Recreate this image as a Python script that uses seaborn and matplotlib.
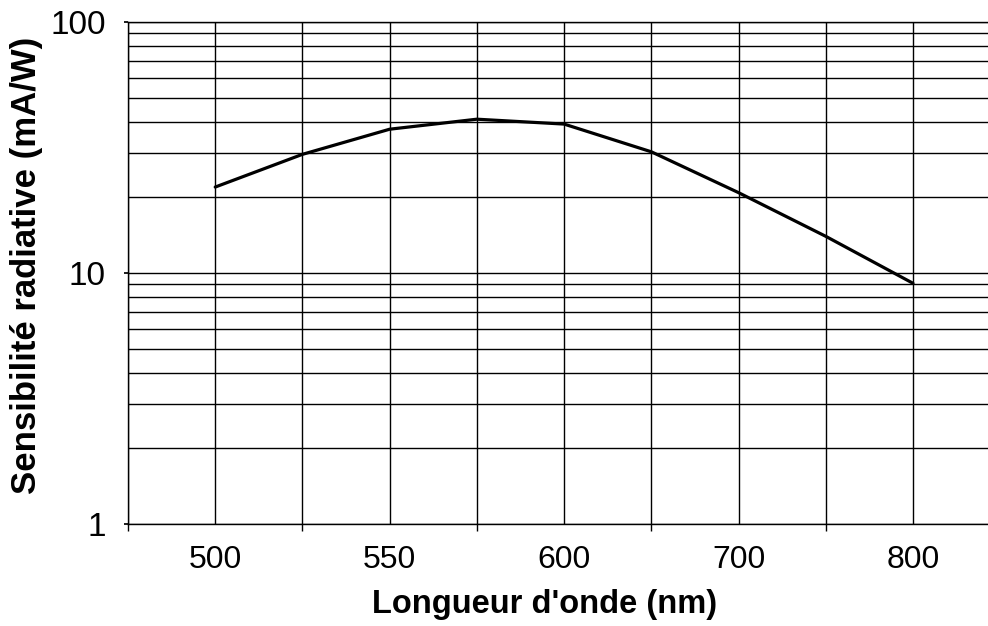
import matplotlib
matplotlib.use("Agg")
import matplotlib.pyplot as plt
import seaborn as sns
import pandas as pd
import numpy as np
from matplotlib.ticker import FixedLocator, NullFormatter, LogLocator

wavelengths = ["500", "525", "550", "575", "600", "650", "700", "750", "800"]
sensitivity = [22.0, 29.7, 37.4, 41.0, 39.2, 30.4, 20.9, 14.0, 9.1]
shown_labels = ["500", "550", "600", "700", "800"]
y_ticks = [1, 10, 100]
y_tick_labels = ["1", "10", "100"]
x_label = "Longueur d'onde (nm)"
y_label = "Sensibilité radiative (mA/W)"

sns.set_theme(style="white")
plt.rcParams["font.family"] = ["Liberation Sans", "DejaVu Sans"]

df = pd.DataFrame({"wl": wavelengths, "s": sensitivity})

fig = plt.figure(figsize=(9.88, 6.26), dpi=100)
ax = fig.add_axes([128/988, 1-524/626, 1-128/988, (524-22)/626])

sns.lineplot(data=df, x="wl", y="s", ax=ax, color="black", linewidth=2.3, sort=False)

ax.set_yscale("log")
ax.set_ylim(1, 100)
ax.set_xlim(-1, 8.86)

n = len(wavelengths)
ax.xaxis.set_major_locator(FixedLocator(list(range(0, n, 2))))
ax.set_xticklabels([w if w in shown_labels else "" for w in wavelengths[::2]])
ax.xaxis.set_minor_locator(FixedLocator(list(range(-1, n, 2))))
ax.xaxis.set_minor_formatter(NullFormatter())
ax.tick_params(axis="x", which="major", length=0, pad=15, labelsize=23, colors="black")
ax.tick_params(axis="x", which="minor", bottom=True, length=5, width=1, direction="out", color="black")

ax.yaxis.set_major_locator(FixedLocator(y_ticks))
ax.set_yticklabels(y_tick_labels)
ax.yaxis.set_minor_locator(LogLocator(base=10, subs=np.arange(2, 10)))
ax.yaxis.set_minor_formatter(NullFormatter())
ax.tick_params(axis="y", which="major", left=True, length=3, pad=13, labelsize=24, colors="black")
ax.tick_params(axis="y", which="minor", length=0)

ax.grid(True, which="both", axis="both", color="black", linewidth=1.0)
ax.set_axisbelow(True)

for side in ["left", "bottom", "top"]:
    ax.spines[side].set_visible(True)
    ax.spines[side].set_color("black")
    ax.spines[side].set_linewidth(1.0)
ax.spines["right"].set_visible(False)

ax.set_xlabel("")
ax.set_ylabel("")
fig.text(545/988, 1-605/626, x_label, fontsize=23.5, fontweight="bold",
         ha="center", va="center", color="black")
fig.text(27/988, 1-265/626, y_label, rotation=90, fontsize=25, fontweight="bold",
         ha="center", va="center", color="black")

fig.savefig("out.png", dpi=100, facecolor="white")
